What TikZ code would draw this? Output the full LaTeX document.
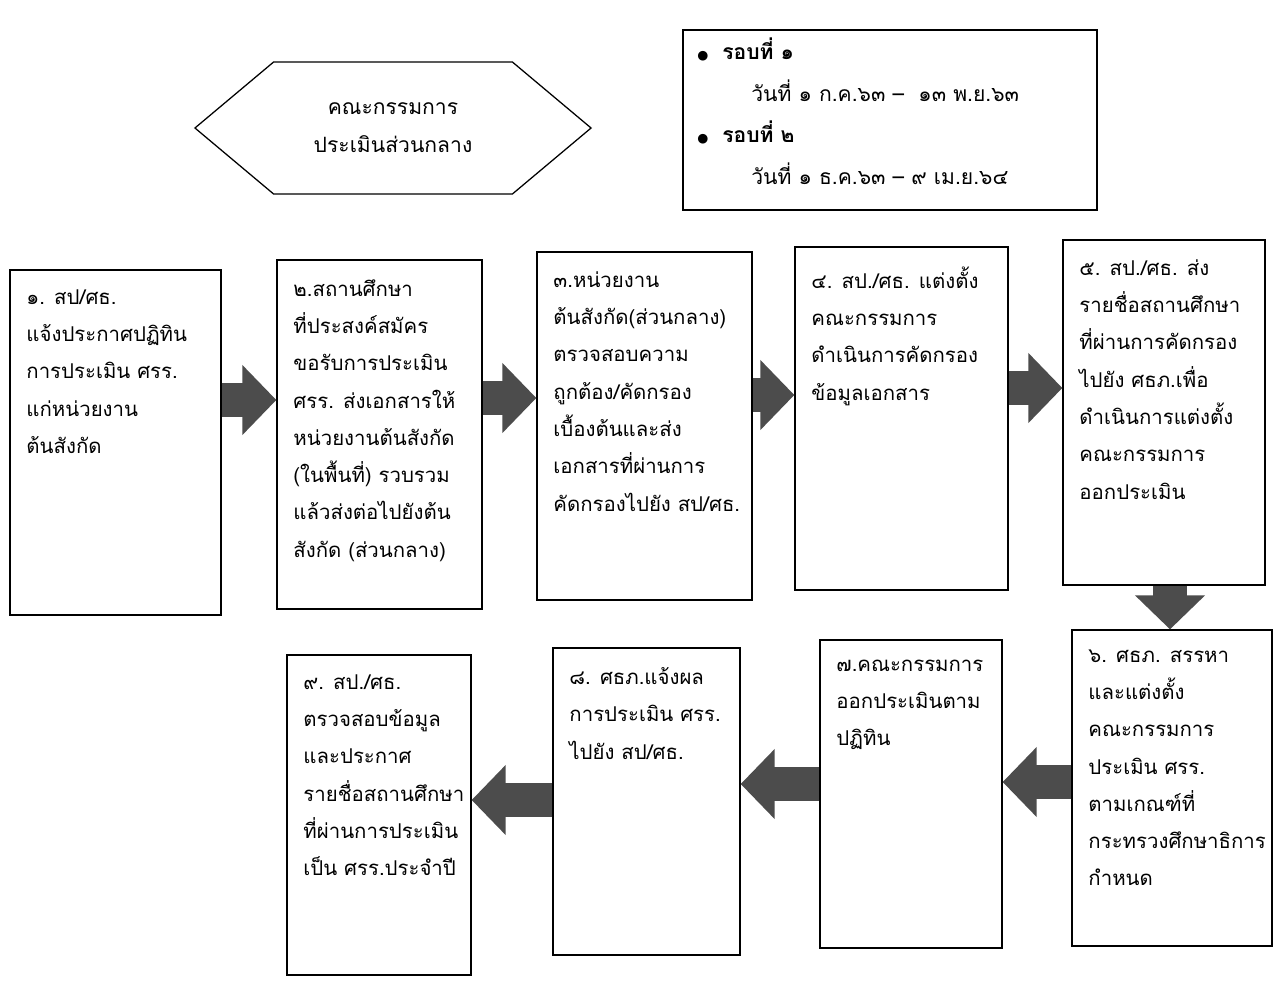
\documentclass[tikz,border=0pt]{standalone}
\usepackage{fontspec}
\usepackage{tikz}
\usetikzlibrary{fit,shapes.symbols,arrows.meta}
\newfontfamily\thaifont[Script=Thai]{Loma}
\newfontfamily\symfont{DejaVu Sans}

\begin{document}
\begin{tikzpicture}[x=0.025cm, y=-0.025cm, every node/.style={font=\thaifont\fontsize{14.5}{26.5}\selectfont},
    stepbox/.style={draw, line width=0.9pt, inner sep=0pt},
    steptext/.style={anchor=north west, align=left, inner sep=0pt, xshift=0.42cm, yshift=-0.5cm},
    bigarrow/.style={line width=0.85cm, draw=black!70, -{Triangle[width=1.7cm, length=0.85cm]}}]
    \path[use as bounding box, fill=white] (0,0) rectangle (1280,980);

    \node (board) [draw, line width=0.9pt, signal, signal to=west and east, signal pointer angle=80,
        minimum width=9.9cm, minimum height=3.3cm, align=center,
        font=\thaifont\fontsize{15}{27}\selectfont] at (393,128) {คณะกรรมการ\\ประเมินส่วนกลาง};
    \node (rounds) [stepbox, fit={(683,30) (1097,210)}] {};
    \node (roundstext) [anchor=north west, align=left, inner sep=0pt,
        font=\thaifont\fontsize{15}{29.5}\selectfont] at (697,38)
        {{\symfont\small ●}\hspace{0.35cm}\textbf{รอบที่ ๑}\\
         \hspace*{1.35cm}วันที่ ๑ ก.ค.๖๓ –\ \ ๑๓ พ.ย.๖๓\\
         {\symfont\small ●}\hspace{0.35cm}\textbf{รอบที่ ๒}\\
         \hspace*{1.35cm}วันที่ ๑ ธ.ค.๖๓ – ๙ เม.ย.๖๔};

    \node (b1) [stepbox, fit={(10,270) (221,615)}] {};
    \node (b2) [stepbox, fit={(277,260) (482,609)}] {};
    \node (b3) [stepbox, fit={(537,252) (752,600)}] {};
    \node (b4) [stepbox, fit={(795,247) (1008,590)}] {};
    \node (b5) [stepbox, fit={(1063,240) (1265,585)}] {};
    \node (b6) [stepbox, fit={(1072,630) (1272,946)}] {};
    \node (b7) [stepbox, fit={(820,640) (1002,948)}] {};
    \node (b8) [stepbox, fit={(553,648) (740,955)}] {};
    \node (b9) [stepbox, fit={(287,655) (471,975)}] {};

    \node (t1) [steptext] at (b1.north west) {๑. สป/ศธ.\\แจ้งประกาศปฏิทิน\\การประเมิน ศรร.\\แก่หน่วยงาน\\ต้นสังกัด};
    \node (t2) [steptext] at (b2.north west) {๒.สถานศึกษา\\ที่ประสงค์สมัคร\\ขอรับการประเมิน\\ศรร. ส่งเอกสารให้\\หน่วยงานต้นสังกัด\\(ในพื้นที่) รวบรวม\\แล้วส่งต่อไปยังต้น\\สังกัด (ส่วนกลาง)};
    \node (t3) [steptext] at (b3.north west) {๓.หน่วยงาน\\ต้นสังกัด(ส่วนกลาง)\\ตรวจสอบความ\\ถูกต้อง/คัดกรอง\\เบื้องต้นและส่ง\\เอกสารที่ผ่านการ\\คัดกรองไปยัง สป/ศธ.};
    \node (t4) [steptext] at (b4.north west) {๔. สป./ศธ. แต่งตั้ง\\คณะกรรมการ\\ดำเนินการคัดกรอง\\ข้อมูลเอกสาร};
    \node (t5) [steptext] at (b5.north west) {๕. สป./ศธ. ส่ง\\รายชื่อสถานศึกษา\\ที่ผ่านการคัดกรอง\\ไปยัง ศธภ.เพื่อ\\ดำเนินการแต่งตั้ง\\คณะกรรมการ\\ออกประเมิน};
    \node (t6) [steptext] at (b6.north west) {๖. ศธภ. สรรหา\\และแต่งตั้ง\\คณะกรรมการ\\ประเมิน ศรร.\\ตามเกณฑ์ที่\\กระทรวงศึกษาธิการ\\กำหนด};
    \node (t7) [steptext] at (b7.north west) {๗.คณะกรรมการ\\ออกประเมินตาม\\ปฏิทิน};
    \node (t8) [steptext] at (b8.north west) {๘. ศธภ.แจ้งผล\\การประเมิน ศรร.\\ไปยัง สป/ศธ.};
    \node (t9) [steptext] at (b9.north west) {๙. สป./ศธ.\\ตรวจสอบข้อมูล\\และประกาศ\\รายชื่อสถานศึกษา\\ที่ผ่านการประเมิน\\เป็น ศรร.ประจำปี};

    \draw[bigarrow] (b1.east |- 0,400) -- (b2.west |- 0,400);
    \draw[bigarrow] (b2.east |- 0,398) -- (b3.west |- 0,398);
    \draw[bigarrow] (b3.east |- 0,395) -- (b4.west |- 0,395);
    \draw[bigarrow] (b4.east |- 0,388) -- (b5.west |- 0,388);
    \draw[bigarrow] (b5.south -| 1170,0) -- (b6.north -| 1170,0);
    \draw[bigarrow] (b6.west |- 0,782) -- (b7.east |- 0,782);
    \draw[bigarrow] (b7.west |- 0,784) -- (b8.east |- 0,784);
    \draw[bigarrow] (b8.west |- 0,800) -- (b9.east |- 0,800);
\end{tikzpicture}
\end{document}
